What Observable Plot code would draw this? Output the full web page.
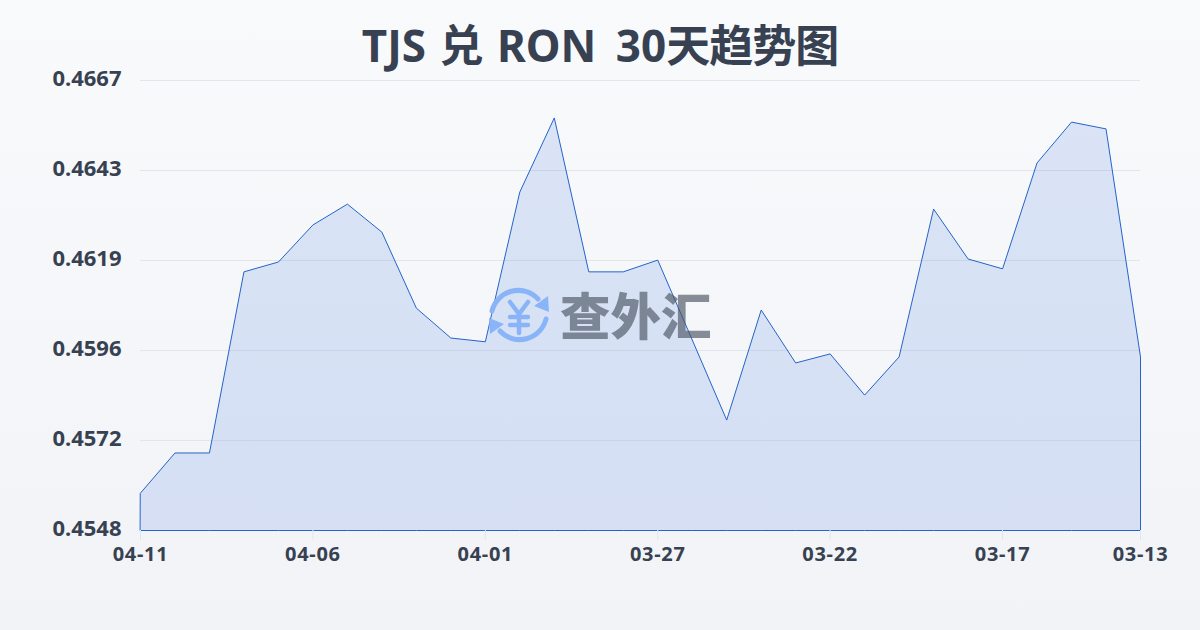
<!DOCTYPE html>
<html lang="zh">
<head>
<meta charset="utf-8">
<script src="https://cdn.jsdelivr.net/npm/d3@7"></script>
<script src="https://cdn.jsdelivr.net/npm/@observablehq/plot@0.6"></script>
<style>
html,body{margin:0;padding:0}
body{width:1200px;height:630px;overflow:hidden;position:relative;background:linear-gradient(180deg,#f8fafc 0%,#f1f3f6 100%);font-family:"Noto Sans","Noto Sans CJK SC",sans-serif}
#title{position:absolute;left:0;top:0;width:1200px;height:60px;margin:0;text-align:center;font:700 44px/90px "Noto Sans","Noto Sans CJK SC",sans-serif;color:#374151;word-spacing:2px}
#title .gap{margin-left:6px}
#title .cjk{letter-spacing:-1px}
#chart{position:absolute;left:0;top:60px}
#chart g[aria-label="x-axis tick label"] text{letter-spacing:.7px}
#mark{position:absolute;left:488px;top:282px;display:flex;align-items:center;height:66px}
#mark span{font:900 50.5px/60px "Noto Sans CJK SC",sans-serif;color:#4b5563;opacity:.65;margin-left:10px;letter-spacing:0;position:relative;top:-2px}
</style>
</head>
<body>
<h1 id="title">TJS 兑 RON <span class="gap">30</span><span class="cjk">天趋势图</span></h1>
<div id="chart"></div>
<div id="mark">
<svg width="62" height="66" viewBox="0 0 62 66" fill="none" stroke="#8ab4f8" stroke-width="5" stroke-linecap="round">
<path d="M4 29A27 27 0 0 1 50 17"/><path d="M58 37A27 27 0 0 1 12 49"/>
<path d="M60 14L61 30L46 24Z" fill="#8ab4f8" stroke="none"/><path d="M2 52L1 36L16 42Z" fill="#8ab4f8" stroke="none"/>
<path d="M22 20L31 32L40 20M22 35H40M22 43H40M31 32V51" stroke-width="4.5"/>
</svg>
<span>查外汇</span>
</div>
<script>
const dates = ["04-11","04-10","04-09","04-08","04-07","04-06","04-05","04-04","04-03","04-02","04-01","03-31","03-30","03-29","03-28","03-27","03-26","03-25","03-24","03-23","03-22","03-21","03-20","03-19","03-18","03-17","03-16","03-15","03-14","03-13"];
const rates = [0.45579,0.45685,0.45685,0.46164,0.4619,0.46288,0.46343,0.46269,0.46068,0.45989,0.45979,0.46375,0.46571,0.46164,0.46164,0.46195,0.45984,0.45772,0.46063,0.45923,0.45947,0.45838,0.45939,0.4633,0.46198,0.46172,0.46452,0.4656,0.46542,0.45939];
const yTicks = [0.4548,0.4572,0.4596,0.4619,0.4643,0.4667];
const xTicks = ["04-11","04-06","04-01","03-27","03-22","03-17","03-13"];
const yMin = 0.4548, yMax = 0.4667;
const table = dates.map((d,i)=>({date:d,rate:rates[i]}));
const yPos = yTicks.map((_,i)=>yMin+(yMax-yMin)*i/5);
const plot = Plot.plot({
  width:1200,height:570,
  marginLeft:140,marginRight:60,marginTop:20,marginBottom:100,
  style:{background:"transparent",fontFamily:'"Noto Sans","Noto Sans CJK SC",sans-serif',overflow:"visible"},
  x:{type:"point",domain:dates,padding:0,round:false,label:null},
  y:{domain:[yMin,yMax],label:null},
  marks:[
    Plot.gridY(yPos,{stroke:"#e2e6ec",strokeOpacity:1,strokeWidth:1}),
    Plot.areaY(table,{x:"date",y1:()=>yMin,y2:"rate",fill:"#356bdc",fillOpacity:0.15,stroke:"#2563c9",strokeWidth:1,curve:"linear",dx:0.5,dy:0.5}),
    Plot.axisY(yPos,{tickSize:0,tickPadding:19,fontSize:22,fontWeight:700,fill:"#374151",dy:-2,tickFormat:(d,i)=>yTicks[i].toFixed(4),label:null}),
    Plot.axisX(xTicks,{tickSize:10,tickPadding:6,fontSize:20,fontWeight:700,fill:"#374151",stroke:"#e2e6ec",label:null})
  ]
});
document.getElementById("chart").append(plot);
</script>
</body>
</html>
